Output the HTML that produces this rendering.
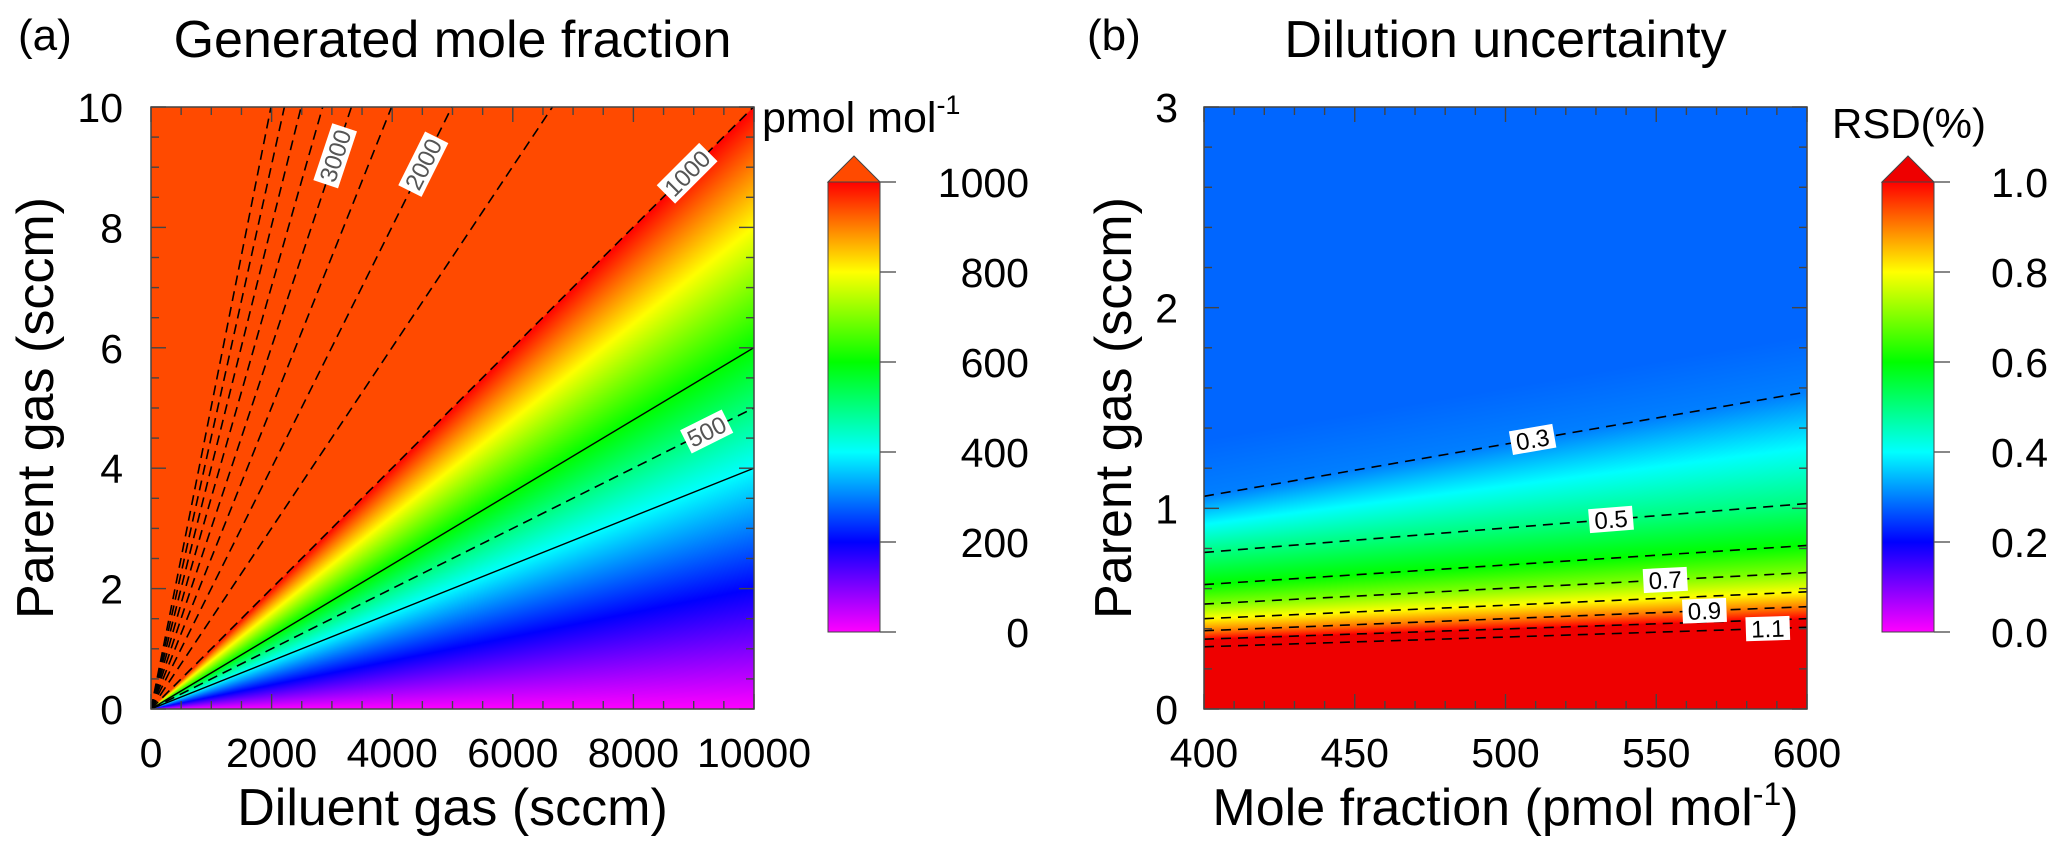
<!DOCTYPE html>
<html><head><meta charset="utf-8">
<style>
html,body{margin:0;padding:0;background:#fff;}
#wrap{position:relative;width:2067px;height:855px;overflow:hidden;font-family:"Liberation Sans",sans-serif;}
canvas{position:absolute;}
svg{position:absolute;left:0;top:0;}
</style></head>
<body>
<div id="wrap">
<canvas id="heatA" width="603" height="602" style="left:151px;top:107px"></canvas>
<canvas id="heatB" width="603" height="602" style="left:1204px;top:107px"></canvas>
<svg id="svg" width="2067" height="855"></svg>
</div>
<script>
// ---------- data: panel (a) ----------
const parentGasMax = 10;          // sccm
const diluentGasMax = 10000;      // sccm
const sourceMoleFraction = 1e6;   // pmol/mol
const dashedLevelsA = [500, 1000, 1500, 2000, 2500, 3000, 3500, 4000, 4500, 5000];
const solidLevelsA = [400, 600];
const labelLevelsA = [3000, 2000, 1000, 500];
const labelParentA = [9.19, 9.05, 8.9, 4.61];
const xTicksA = [0, 2000, 4000, 6000, 8000, 10000];
const yTicksA = [0, 2, 4, 6, 8, 10];
const cbTicksA = [0, 200, 400, 600, 800, 1000];
// ---------- data: panel (b) ----------
const xTicksB = [400, 450, 500, 550, 600];
const yTicksB = [0, 1, 2, 3];
const levelsB = [0.3, 0.5, 0.6, 0.7, 0.8, 0.9, 1.0, 1.1];
const parentAt400 = [1.06, 0.78, 0.62, 0.523, 0.45, 0.39, 0.348, 0.31];
const parentAt600 = [1.58, 1.024, 0.815, 0.68, 0.584, 0.51, 0.45, 0.407];
const labelLevelsB = [0.3, 0.5, 0.7, 0.9, 1.1];
const labelXB = [509, 535, 553, 566, 587];
const cbTicksB = [0.0, 0.2, 0.4, 0.6, 0.8, 1.0];

const NS = "http://www.w3.org/2000/svg";
const svg = document.getElementById('svg');
function mk(tag, attrs, parent) {
  const e = document.createElementNS(NS, tag);
  for (const k in attrs) e.setAttribute(k, attrs[k]);
  (parent || svg).appendChild(e);
  return e;
}
const A = {L:151, R:754, T:107, B:709};
const Bp = {L:1204, R:1807, T:107, B:709};
const xA = d => A.L + d / diluentGasMax * (A.R - A.L);
const yA = p => A.B - p / parentGasMax * (A.B - A.T);
const xB = m => Bp.L + (m - 400) / 200 * (Bp.R - Bp.L);
const yB = p => Bp.B - p / 3 * (Bp.B - Bp.T);

const stops = [[0,[255,0,255]],[0.2,[0,0,255]],[0.4,[0,255,255]],[0.6,[0,255,0]],[0.8,[255,255,0]],[1,[255,0,0]]];
function cmap(f) {
  if (f <= 0) return stops[0][1];
  for (let i = 1; i < stops.length; i++) {
    if (f <= stops[i][0]) {
      const t = (f - stops[i-1][0]) / (stops[i][0] - stops[i-1][0]);
      const a = stops[i-1][1], b = stops[i][1];
      return [a[0]+(b[0]-a[0])*t, a[1]+(b[1]-a[1])*t, a[2]+(b[2]-a[2])*t];
    }
  }
  return stops[stops.length-1][1];
}
(function(){
  const c = document.getElementById('heatA'), ctx = c.getContext('2d');
  const W = c.width, H = c.height, img = ctx.createImageData(W, H);
  for (let py = 0; py < H; py++) for (let px = 0; px < W; px++) {
    const D = (px + 0.5) / W * diluentGasMax, P = (H - py - 0.5) / H * parentGasMax;
    const C = sourceMoleFraction * P / (P + D);
    const col = C > 1000 ? [255,74,0] : cmap(C / 1000);
    const i = (py * W + px) * 4;
    img.data[i] = col[0]; img.data[i+1] = col[1]; img.data[i+2] = col[2]; img.data[i+3] = 255;
  }
  ctx.putImageData(img, 0, 0);
})();
function rsdAt(m, P) {
  const t = (m - 400) / 200;
  const Pk = parentAt400.map((v, i) => v + (parentAt600[i] - v) * t);
  if (P >= Pk[0]) return Math.max(0.28, levelsB[0] - 0.07 * (P - Pk[0]));
  const n = levelsB.length;
  if (P <= Pk[n-1]) return 1.2;
  for (let k = 0; k < n - 1; k++) {
    if (P < Pk[k] && P >= Pk[k+1]) {
      const s = (Pk[k] - P) / (Pk[k] - Pk[k+1]);
      return levelsB[k] + s * (levelsB[k+1] - levelsB[k]);
    }
  }
  return 1.2;
}
(function(){
  const c = document.getElementById('heatB'), ctx = c.getContext('2d');
  const W = c.width, H = c.height, img = ctx.createImageData(W, H);
  for (let py = 0; py < H; py++) for (let px = 0; px < W; px++) {
    const m = 400 + (px + 0.5) / W * 200, P = (H - py - 0.5) / H * 3;
    const v = rsdAt(m, P);
    const col = v >= 1.0 ? [238,0,0] : cmap(v);
    const i = (py * W + px) * 4;
    img.data[i] = col[0]; img.data[i+1] = col[1]; img.data[i+2] = col[2]; img.data[i+3] = 255;
  }
  ctx.putImageData(img, 0, 0);
})();

const clipA = mk('clipPath', {id:'clipA'});
mk('rect', {x:A.L, y:A.T, width:A.R-A.L, height:A.B-A.T}, clipA);
const gA = mk('g', {'clip-path':'url(#clipA)'});


function endA(L) {
  const r = L / (sourceMoleFraction - L);
  let D = diluentGasMax, P = r * D;
  if (P > parentGasMax) { P = parentGasMax; D = P / r; }
  return [D, P];
}
dashedLevelsA.forEach(L => {
  const [D, P] = endA(L);
  const ln = mk('line', {x1:xA(0), y1:yA(0), x2:xA(D), y2:yA(P), stroke:'#000', 'stroke-width':1.6, 'stroke-dasharray':'10 6'}, gA);
  
  
});
solidLevelsA.forEach(L => {
  const [D, P] = endA(L);
  const ln = mk('line', {x1:xA(0), y1:yA(0), x2:xA(D), y2:yA(P), stroke:'#000', 'stroke-width':1.4}, gA);
  
  
});
labelLevelsA.forEach((L, i) => {
  const r = L / (sourceMoleFraction - L);
  const P = labelParentA[i], D = P / r;
  const cx = xA(D), cy = yA(P);
  const ang = Math.atan2(yA(P) - yA(0), xA(D) - xA(0)) * 180 / Math.PI;
  const g = mk('g', {transform:`translate(${cx},${cy}) rotate(${ang})`});
  
  
  const txt = String(L);
  const w = txt.length * 13.5 + 6;
  mk('rect', {x:-w/2, y:-13, width:w, height:26, fill:'#fff'}, g);
  const t = mk('text', {x:0, y:8.5, 'text-anchor':'middle', 'font-size':24, fill:'#555'}, g);
  t.textContent = txt;
});

const gB = mk('g', {});


levelsB.forEach((L, i) => {
  const ln = mk('line', {x1:xB(400), y1:yB(parentAt400[i]), x2:xB(600), y2:yB(parentAt600[i]), stroke:'#000', 'stroke-width':1.6, 'stroke-dasharray':'10 7'}, gB);
  
  
});
labelLevelsB.forEach((L, j) => {
  const i = levelsB.indexOf(L);
  const m = labelXB[j], t = (m - 400) / 200;
  const P = parentAt400[i] + (parentAt600[i] - parentAt400[i]) * t;
  const ang = Math.atan2(yB(parentAt600[i]) - yB(parentAt400[i]), xB(600) - xB(400)) * 180 / Math.PI;
  const g = mk('g', {transform:`translate(${xB(m)},${yB(P)}) rotate(${ang})`});
  
  
  mk('rect', {x:-22, y:-12, width:44, height:24, fill:'#fff'}, g);
  const tx = mk('text', {x:0, y:8.5, 'text-anchor':'middle', 'font-size':24, fill:'#000'}, g);
  tx.textContent = L.toFixed(1);
});

function frame(P, name) {
  const r = mk('rect', {x:P.L, y:P.T, width:P.R-P.L, height:P.B-P.T, fill:'none', stroke:'#444', 'stroke-width':1.5});
  
  
}
function ticks(P, xmin, xmax, xstep, xmajor, ymin, ymax, ystep, ymajor, name) {
  const g = mk('g', {stroke:'#444', 'stroke-width':1.4});
  
  
  const nx = Math.round((xmax - xmin) / xstep);
  for (let k = 0; k <= nx; k++) {
    const v = xmin + k * xstep, x = P.L + (v - xmin) / (xmax - xmin) * (P.R - P.L);
    const len = (Math.abs(v / xmajor - Math.round(v / xmajor)) < 1e-6) ? 15 : 8;
    mk('line', {x1:x, y1:P.B, x2:x, y2:P.B-len}, g);
    mk('line', {x1:x, y1:P.T, x2:x, y2:P.T+len}, g);
  }
  const ny = Math.round((ymax - ymin) / ystep);
  for (let k = 0; k <= ny; k++) {
    const v = ymin + k * ystep, y = P.B - (v - ymin) / (ymax - ymin) * (P.B - P.T);
    const len = (Math.abs(v / ymajor - Math.round(v / ymajor)) < 1e-6) ? 15 : 8;
    mk('line', {x1:P.L, y1:y, x2:P.L+len, y2:y}, g);
    mk('line', {x1:P.R, y1:y, x2:P.R-len, y2:y}, g);
  }
}
frame(A, 'plot-frame-a'); frame(Bp, 'plot-frame-b');
ticks(A, 0, 10000, 500, 2000, 0, 10, 0.5, 2, 'ticks-a');
ticks(Bp, 400, 600, 10, 50, 0, 3, 0.2, 1, 'ticks-b');

function text(str, x, y, size, anchor, name, extra) {
  const t = mk('text', Object.assign({x:x, y:y, 'font-size':size, 'text-anchor':anchor || 'start', fill:'#000'}, extra || {}));
  t.textContent = str;
  
  
  return t;
}
xTicksA.forEach(v => { text(String(v), xA(v), 767, 41, 'middle', 'x-tick-label-a'); });
yTicksA.forEach(v => { text(String(v), 123, yA(v) + 15, 41, 'end', 'y-tick-label-a'); });
xTicksB.forEach(v => { text(String(v), xB(v), 767, 41, 'middle', 'x-tick-label-b'); });
yTicksB.forEach(v => { text(String(v), 1178, yB(v) + 15, 41, 'end', 'y-tick-label-b'); });

text('(a)', 18, 50, 44, 'start', 'panel-label-a');
text('(b)', 1087, 50, 44, 'start', 'panel-label-b');
text('Generated mole fraction', (A.L + A.R) / 2, 57, 52, 'middle', 'title-a');
text('Dilution uncertainty', (Bp.L + Bp.R) / 2, 57, 52, 'middle', 'title-b');
text('Diluent gas (sccm)', (A.L + A.R) / 2, 825, 52, 'middle', 'x-axis-title-a');
const mx = text('Mole fraction (pmol mol', (Bp.L + Bp.R) / 2, 825, 52, 'middle', 'x-axis-title-b');
const sup1 = mk('tspan', {dy:-20, 'font-size':32}, mx); sup1.textContent = '-1';
const cl1 = mk('tspan', {dy:20}, mx); cl1.textContent = ')';
text('Parent gas (sccm)', 53, 408, 52, 'middle', 'y-axis-title-a', {transform:'rotate(-90 53 408)'});
text('Parent gas (sccm)', 1131, 408, 52, 'middle', 'y-axis-title-b', {transform:'rotate(-90 1131 408)'});

const defs = mk('defs', {});
const grad = mk('linearGradient', {id:'rainbow', x1:0, y1:1, x2:0, y2:0}, defs);
stops.forEach(s => { mk('stop', {offset:s[0], 'stop-color':`rgb(${s[1].map(Math.round).join(',')})`}, grad); });
function colorbar(x0, x1, top, bot, arrowCol, tickVals, tmax, labelRight, name, fmt) {
  const g = mk('g', {});
  
  
  mk('polygon', {points:`${x0},${top} ${(x0+x1)/2},${top-26} ${x1},${top}`, fill:arrowCol, stroke:'#444', 'stroke-width':1}, g);
  mk('rect', {x:x0, y:top, width:x1-x0, height:bot-top, fill:'url(#rainbow)', stroke:'#444', 'stroke-width':1}, g);
  tickVals.forEach(v => {
    const y = bot - v / tmax * (bot - top);
    mk('line', {x1:x1, y1:y, x2:x1+16, y2:y, stroke:'#555', 'stroke-width':1.4}, g);
    const t = mk('text', {x:labelRight, y:y + 15, 'font-size':41, 'text-anchor':'end', fill:'#000'}, g);
    t.textContent = fmt(v);
  });
}
colorbar(828, 880, 182, 632, '#ff4a00', cbTicksA, 1000, 1029, 'colorbar-a', v => String(v));
colorbar(1882, 1934, 182, 632, '#ee0000', cbTicksB, 1.0, 2048, 'colorbar-b', v => v.toFixed(1));
const pm = text('pmol mol', 762, 132, 43, 'start', 'colorbar-unit-a');
const sup2 = mk('tspan', {dy:-18, 'font-size':27}, pm); sup2.textContent = '-1';
text('RSD(%)', 1832, 138, 42, 'start', 'colorbar-unit-b');
</script>
</body></html>
